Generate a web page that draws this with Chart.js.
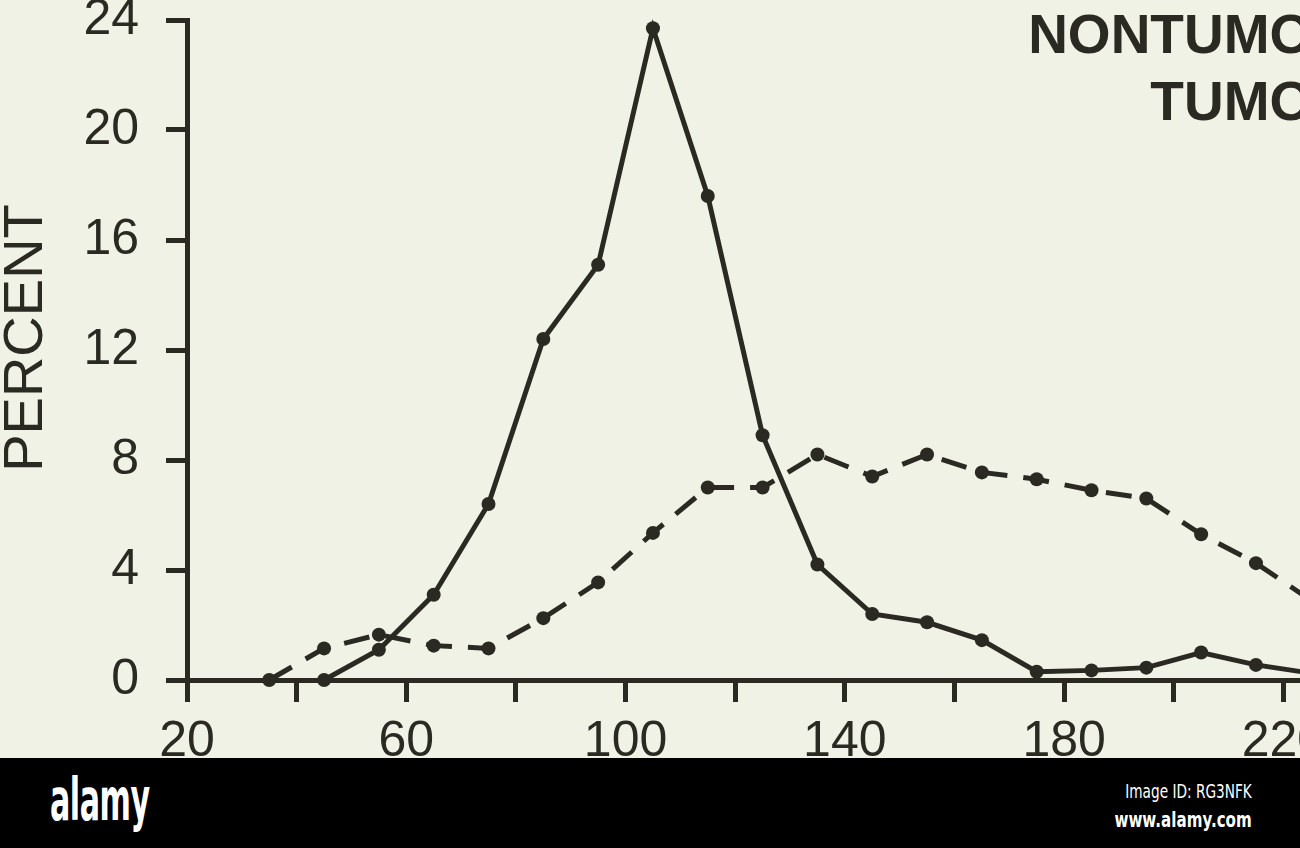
<!DOCTYPE html>
<html>
<head>
<meta charset="utf-8">
<script src="https://cdn.jsdelivr.net/npm/chart.js@4/dist/chart.umd.min.js"></script>
<style>
  html, body { margin:0; padding:0; width:1300px; height:848px; overflow:hidden; background:#f1f2e6; }
  #wrap { position:absolute; left:0; top:0; width:1400px; height:758px; }
  #band { position:absolute; left:0; top:758px; width:1300px; height:90px; background:#000; overflow:hidden; }
  #logo { position:absolute; left:50px; top:8px; font-family:"DejaVu Sans", sans-serif; font-weight:bold; font-size:58px; color:#fff; transform:scaleX(0.52); transform-origin:left top; letter-spacing:-1px; }
  #imgid { position:absolute; right:48px; top:22px; font-family:"DejaVu Sans", sans-serif; font-size:19px; color:#fff; transform:scaleX(0.72); transform-origin:right top; white-space:nowrap; }
  #www { position:absolute; right:48px; top:50px; font-family:"DejaVu Sans", sans-serif; font-weight:bold; font-size:21px; color:#fff; transform:scaleX(0.72); transform-origin:right top; white-space:nowrap; }
</style>
</head>
<body>
<div id="wrap"><canvas id="c" width="1400" height="758"></canvas></div>
<div id="band">
  <div id="logo">alamy</div>
  <div id="imgid">Image ID: RG3NFK</div>
  <div id="www">www.alamy.com</div>
</div>
<script>
// ---- data ----
const lengthMm     = [35, 45, 55, 65, 75, 85, 95, 105, 115, 125, 135, 145, 155, 165, 175, 185, 195, 205, 215, 225];
const nontumorPct  = [null, 0, 1.1, 3.1, 6.4, 12.4, 15.1, 23.7, 17.6, 8.9, 4.2, 2.4, 2.1, 1.45, 0.3, 0.35, 0.45, 1.0, 0.55, 0.25];
const tumorPct     = [0, 1.15, 1.65, 1.25, 1.15, 2.25, 3.55, 5.35, 7.0, 7.0, 8.2, 7.4, 8.2, 7.55, 7.3, 6.9, 6.6, 5.3, 4.25, 2.9];
const xLabelValues = [20, 60, 100, 140, 180, 220];
const yTickValues  = [0, 4, 8, 12, 16, 20, 24];
const seriesNames  = ['NONTUMOR', 'TUMOR'];
const yTitle       = 'PERCENT';

const INK = '#2a2a23';
const FONT = '"Liberation Sans", Arial, sans-serif';

const toPoints = (vals) => lengthMm.map((x, i) => ({ x: x, y: vals[i] }));

const annot = {
  id: 'annot',
  afterDraw(chart) {
    const ctx = chart.ctx;
    ctx.save();
    ctx.fillStyle = INK;
    // legend (right-aligned, cut by the page edge as in the reference)
    ctx.font = 'bold 55px ' + FONT;
    ctx.textAlign = 'right';
    ctx.textBaseline = 'alphabetic';
    ctx.fillText(seriesNames[0], 1352, 53);
    ctx.fillText(seriesNames[1], 1352, 120);
    // y axis title
    ctx.font = '56px ' + FONT;
    ctx.textAlign = 'center';
    ctx.translate(42, 338);
    ctx.rotate(-Math.PI / 2);
    ctx.fillText(yTitle, 0, 0);
    ctx.restore();
  }
};

new Chart(document.getElementById('c'), {
  type: 'line',
  data: {
    datasets: [
      {
        label: seriesNames[0],
        data: toPoints(nontumorPct),
        borderColor: INK, backgroundColor: INK,
        borderWidth: 5, pointRadius: 7, pointBorderWidth: 0,
        pointBackgroundColor: INK, tension: 0, fill: false, clip: false
      },
      {
        label: seriesNames[1],
        data: toPoints(tumorPct),
        borderColor: INK, backgroundColor: INK,
        borderWidth: 5, borderDash: [26, 16], pointRadius: 7, pointBorderWidth: 0,
        pointBackgroundColor: INK, tension: 0, fill: false, clip: false
      }
    ]
  },
  options: {
    responsive: false,
    animation: false,
    devicePixelRatio: 1,
    layout: { padding: { top: 20, right: 3, bottom: 0, left: 0 } },
    plugins: { legend: { display: false }, tooltip: { enabled: false } },
    scales: {
      x: {
        type: 'linear', min: 20, max: 240,
        afterFit: (s) => { s.height = 78; s.paddingLeft = 0; s.paddingRight = 0; },
        ticks: {
          stepSize: 20, autoSkip: false, maxRotation: 0, minRotation: 0,
          padding: 15, color: INK,
          font: { family: FONT, size: 50, lineHeight: 1 },
          callback: (v) => xLabelValues.includes(v) ? String(v) : ''
        },
        grid: { drawOnChartArea: false, drawTicks: true, tickLength: 22, tickWidth: 5, color: INK, lineWidth: 5 },
        border: { display: true, color: INK, width: 5 }
      },
      y: {
        min: 0, max: 24,
        afterFit: (s) => { s.width = 187; s.paddingTop = 0; s.paddingBottom = 0; },
        afterBuildTicks: (s) => { s.ticks = yTickValues.map(v => ({ value: v })); },
        ticks: {
          padding: 27, color: INK,
          font: { family: FONT, size: 50, lineHeight: 0.75 }
        },
        grid: { drawOnChartArea: false, drawTicks: true, tickLength: 21, tickWidth: 5, color: INK, lineWidth: 5 },
        border: { display: true, color: INK, width: 5 }
      }
    }
  },
  plugins: [annot]
});
</script>
</body>
</html>
